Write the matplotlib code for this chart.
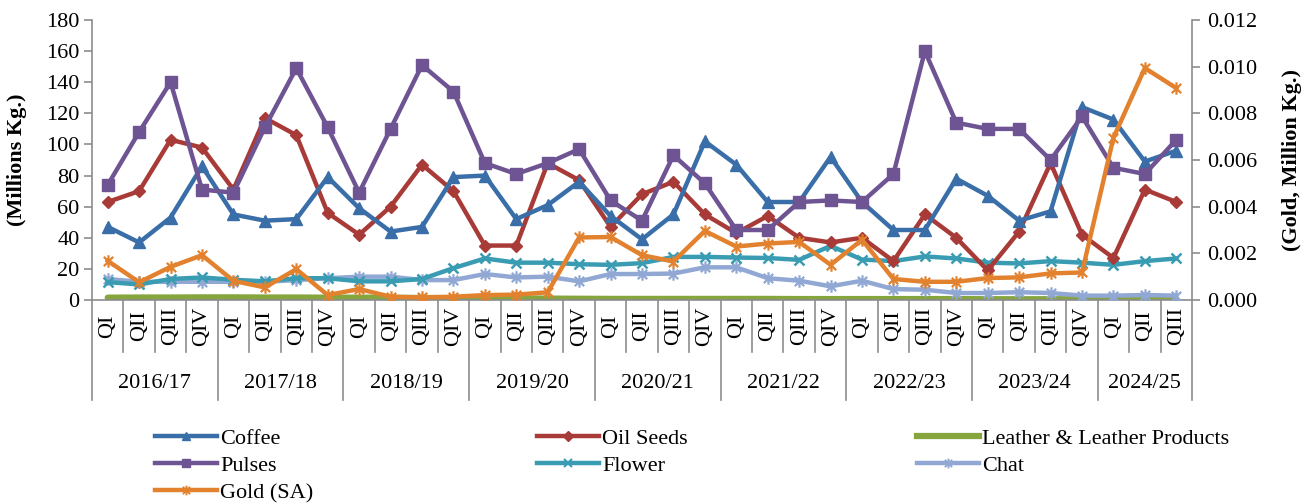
import matplotlib
matplotlib.use("Agg")
import matplotlib.pyplot as plt
import matplotlib.transforms as mtransforms
from matplotlib.path import Path
from matplotlib.lines import Line2D

years = ["2016/17", "2017/18", "2018/19", "2019/20", "2020/21", "2021/22", "2022/23", "2023/24", "2024/25"]
quarters = ["QI", "QII", "QIII", "QIV"]
n_last = 3  # quarters in last year

coffee = [47, 37, 53, 86, 55, 51, 52, 79, 59, 44, 47, 79, 80, 52, 61, 76, 54, 39, 55, 102,
          87, 63, 63, 92, 63, 45, 45, 78, 67, 51, 57, 124, 116, 89, 96]
oil_seeds = [63, 70, 103, 98, 71, 117, 106, 56, 42, 60, 87, 70, 35, 35, 88, 77, 47, 68, 76, 55,
             43, 54, 40, 37, 40, 25, 55, 40, 19, 44, 88, 42, 27, 71, 63]
leather = [1.5, 1.6, 1.6, 1.7, 1.7, 1.6, 1.6, 1.5, 1.5, 1.4, 1.3, 1.2, 1.1, 1.0, 0.9, 0.8, 0.7, 0.7, 0.7, 0.7,
           0.7, 0.7, 0.6, 0.6, 0.6, 0.6, 0.6, 0.6, 0.5, 0.5, 0.5, 0.5, 0.5, 0.5, 0.5]
pulses = [74, 108, 140, 71, 69, 111, 149, 111, 69, 110, 151, 134, 88, 81, 88, 97, 64, 51, 93, 75,
          45, 45, 63, 64, 63, 81, 160, 114, 110, 110, 90, 118, 85, 81, 103]
flower = [11.5, 10, 13.5, 14.5, 13, 12, 14, 14, 12, 12, 13.5, 20.5, 26.7, 24, 24, 23, 22.6, 23.7, 27.7, 27.7,
          27.3, 27, 25.8, 34.8, 26, 25, 28, 26.7, 24, 23.5, 25, 24, 22.6, 25, 26.7]
chat = [13.5, 11.7, 11.7, 11.7, 11.7, 11.7, 12.8, 14, 15, 15, 12.8, 12.8, 16.7, 14.5, 15, 12, 16.7, 16.7, 17, 21,
        21, 14, 12.4, 8.8, 12.4, 7, 6.6, 4.5, 4.5, 5, 4.5, 2.8, 2.8, 3.2, 2.8]
gold = [0.00168, 0.00076, 0.00142, 0.00192, 0.00082, 0.00054, 0.00132, 0.00021, 0.00047, 0.00014,
        0.00011, 0.00014, 0.00021, 0.00023, 0.00033, 0.00268, 0.00270, 0.00192, 0.00165, 0.00296,
        0.00229, 0.00242, 0.00249, 0.00151, 0.00258, 0.00090, 0.00078, 0.00078, 0.00094, 0.00097,
        0.00114, 0.00118, 0.00695, 0.00994, 0.00908]

left_ticks = [0, 20, 40, 60, 80, 100, 120, 140, 160, 180]
right_ticks = [0.000, 0.002, 0.004, 0.006, 0.008, 0.010, 0.012]

plt.rcParams['font.family'] = ['Liberation Serif', 'DejaVu Serif']
FS = 16

C_COFFEE = '#3A6EA8'
C_OIL = '#A83B37'
C_LEATHER = '#86A53F'
C_PULSES = '#6E5493'
C_FLOWER = '#3A9CB2'
C_CHAT = '#90A8D3'
C_GOLD = '#E2822F'
SPINE = '#8C8C8C'

star = Path([(0, -1), (0, 1), (-0.75, -0.75), (0.75, 0.75), (-0.75, 0.75), (0.75, -0.75)],
            [Path.MOVETO, Path.LINETO, Path.MOVETO, Path.LINETO, Path.MOVETO, Path.LINETO])

W, H = 1310, 504
fig = plt.figure(figsize=(W / 100, H / 100), dpi=100)
ax = fig.add_axes([92 / W, 1 - 300 / H, 1100 / W, 280 / H])

labels_q = []
for yi, y in enumerate(years):
    nq = 4 if yi < len(years) - 1 else n_last
    labels_q += quarters[:nq]
x = list(range(len(labels_q)))

lw = 3.2
ax.plot(x, leather, color=C_LEATHER, lw=4.5, solid_capstyle='round', zorder=2, label='Leather & Leather Products')
ax.plot(x, chat, color=C_CHAT, lw=lw, marker=star, ms=9, mew=1.6, zorder=3, label='Chat')
ax.plot(x, flower, color=C_FLOWER, lw=lw, marker='x', ms=7, mew=1.8, zorder=3, label='Flower')
ax.plot(x, oil_seeds, color=C_OIL, lw=lw, marker='D', ms=6, zorder=4, label='Oil Seeds')
ax.plot(x, coffee, color=C_COFFEE, lw=lw, marker='^', ms=8, zorder=5, label='Coffee')
ax.plot(x, pulses, color=C_PULSES, lw=lw, marker='s', ms=8, zorder=6, label='Pulses')

ax.set_xlim(-0.5, len(x) - 0.5)
ax.set_ylim(0, 180)
ax.set_yticks(left_ticks)
ax.set_yticklabels([str(v) for v in left_ticks], fontsize=FS)
ax.tick_params(axis='y', direction='out', length=6, color=SPINE, width=1.2, pad=3)
ax.set_ylabel('(Millions Kg.)', fontsize=FS, fontweight='bold', labelpad=14)

ax2 = ax.twinx()
ax2.plot(x, gold, color=C_GOLD, lw=lw, marker=star, ms=9, mew=1.6, zorder=7, label='Gold (SA)')
ax2.set_ylim(0, 0.012)
ax2.set_yticks(right_ticks)
ax2.set_yticklabels(['%.3f' % v for v in right_ticks], fontsize=FS)
ax2.tick_params(axis='y', direction='out', length=6, color=SPINE, width=1.2, pad=5)
ax2.set_ylabel('(Gold, Million Kg.)', fontsize=FS, fontweight='bold', rotation=90, labelpad=18)

for a in (ax, ax2):
    a.spines['top'].set_visible(False)
    for s in ('left', 'right', 'bottom'):
        a.spines[s].set_color(SPINE)
        a.spines[s].set_linewidth(1.2)
ax.spines['right'].set_visible(False)
ax2.spines['left'].set_visible(False)
ax2.spines['bottom'].set_visible(False)

# multi-level category axis
ax.set_xticks([])
trans = mtransforms.blended_transform_factory(ax.transData, ax.transAxes)
px = 1 / 280.0
q_depth = -52 * px
y_depth = -100 * px
year_bounds = [0]
for yi in range(len(years)):
    nq = 4 if yi < len(years) - 1 else n_last
    year_bounds.append(year_bounds[-1] + nq)
for i in range(len(x) + 1):
    xb = i - 0.5
    depth = y_depth if i in year_bounds else q_depth
    ax.plot([xb, xb], [0, depth], transform=trans, color=SPINE, lw=1.2, clip_on=False, zorder=1)

for i, lab in enumerate(labels_q):
    ax.text(i, -26 * px, lab, transform=trans, rotation=90, ha='center', va='center', fontsize=FS)

for yi, y in enumerate(years):
    s, e = year_bounds[yi], year_bounds[yi + 1]
    ax.text((s + e - 1) / 2.0, -83 * px, y, transform=trans, ha='center', va='center', fontsize=FS)

# legend (three columns, placed manually)
def h(color, marker=None, ms=7, mew=1.0, lw_=3.2):
    return Line2D([0], [0], color=color, lw=lw_, marker=marker, ms=ms, mew=mew)

cols = [
    ([h(C_COFFEE, '^', 6), h(C_PULSES, 's', 6), h(C_GOLD, star, 7, 1.4)], ['Coffee', 'Pulses', 'Gold (SA)'], 155),
    ([h(C_OIL, 'D', 5), h(C_FLOWER, 'x', 6, 1.5)], ['Oil Seeds', 'Flower'], 537),
    ([h(C_LEATHER, None, lw_=4.5), h(C_CHAT, star, 7, 1.4)], ['Leather & Leather Products', 'Chat'], 917),
]
for hs, ls, xpx in cols:
    fig.legend(hs, ls, loc='upper left', bbox_to_anchor=(xpx / W, 1 - 428 / H),
               frameon=False, fontsize=FS, handlelength=2.8, handletextpad=0.12,
               labelspacing=0.3, borderaxespad=0, borderpad=0)

fig.savefig('out.png', dpi=100)
